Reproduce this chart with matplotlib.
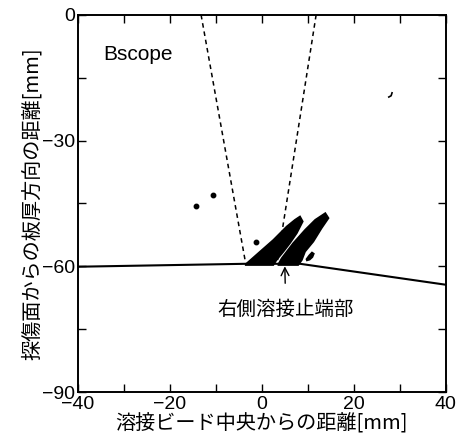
import matplotlib
matplotlib.use('Agg')
import matplotlib.pyplot as plt
import matplotlib.ticker as ticker

plt.rcParams['font.family'] = ['Liberation Sans', 'Noto Sans CJK JP', 'DejaVu Sans']

# weld surface line (mm)
surface_x = [-40, -3.5, 8.3, 40]
surface_y = [-60.1, -59.4, -59.4, -64.4]

# beam edges (dashed)
beam_left_x = [-13.2, -3.5]
beam_left_y = [0, -59.4]
beam_right_x = [11.8, 3.3]
beam_right_y = [0, -59.4]

# echo regions (outlines)
echo1_x = [-3.5, -0.4, 2.5, 5.4, 7.2, 8.3, 8.9, 7.6, 6.1, 4.7, 3.2, 2.5, -3.5]
echo1_y = [-59.5, -56.5, -53.7, -50.5, -48.9, -48.1, -49.3, -52.1, -54.5, -56.5, -58.5, -59.7, -59.7]
echo2_x = [3.6, 4.3, 6.8, 9.4, 11.6, 13.8, 14.5, 13.0, 11.2, 9.4, 8.7, 7.9, 3.6]
echo2_y = [-59.5, -58.1, -54.5, -51.3, -48.9, -47.3, -48.5, -50.9, -54.1, -56.5, -58.5, -59.7, -59.7]
echo3_x = [9.7, 10.3, 10.9, 11.3, 11.0, 10.4, 9.8]
echo3_y = [-58.3, -57.4, -56.7, -57.0, -57.8, -58.4, -58.6]

# isolated small echoes
dots_x = [-14.4, -10.6, -1.2]
dots_y = [-45.5, -42.9, -54.2]
mark_x = [27.6, 28.1, 28.3]
mark_y = [-19.6, -19.3, -18.6]

fig = plt.figure(figsize=(4.63, 4.38), dpi=100)
ax = fig.add_axes([0.168, 0.105, 0.795, 0.861])

ax.plot(surface_x, surface_y, color='black', lw=1.5)
ax.plot(beam_left_x, beam_left_y, color='black', lw=1.1, ls=(0, (3, 2.5)))
ax.plot(beam_right_x, beam_right_y, color='black', lw=1.1, ls=(0, (3, 2.5)))

for ex, ey in [(echo1_x, echo1_y), (echo2_x, echo2_y), (echo3_x, echo3_y)]:
    ax.fill(ex, ey, color='black', lw=1.2, ec='black')

ax.plot(dots_x, dots_y, 'o', color='black', ms=3.2)
ax.plot(mark_x, mark_y, color='black', lw=1.2)

ax.text(-34.5, -9.5, 'Bscope', fontsize=15, va='center', ha='left')

ax.annotate('右側溶接止端部', xy=(5.0, -60.0), xytext=(5.2, -70.2),
            ha='center', va='center', fontsize=14, family=['Noto Sans CJK JP'],
            arrowprops=dict(arrowstyle='->', color='black', lw=1.0,
                            shrinkA=9, shrinkB=0, mutation_scale=14))

ax.set_xlim(-40, 40)
ax.set_ylim(-90, 0)
ax.xaxis.set_major_locator(ticker.MultipleLocator(20))
ax.xaxis.set_minor_locator(ticker.MultipleLocator(10))
ax.yaxis.set_major_locator(ticker.MultipleLocator(30))
ax.yaxis.set_minor_locator(ticker.MultipleLocator(15))
ax.tick_params(which='both', direction='in', top=True, right=True, width=1.0)
ax.tick_params(which='major', length=6, labelsize=14, pad=2)
ax.tick_params(axis='x', which='major', pad=3)
ax.tick_params(which='minor', length=6)
for s in ax.spines.values():
    s.set_linewidth(1.4)

ax.set_xlabel('溶接ビード中央からの距離[mm]', fontsize=14.5,
              family=['Noto Sans CJK JP'], labelpad=0)
ax.set_ylabel('探傷面からの板厚方向の距離[mm]', fontsize=14.5,
              family=['Noto Sans CJK JP'], labelpad=-1)

fig.savefig('out.png', dpi=100)
